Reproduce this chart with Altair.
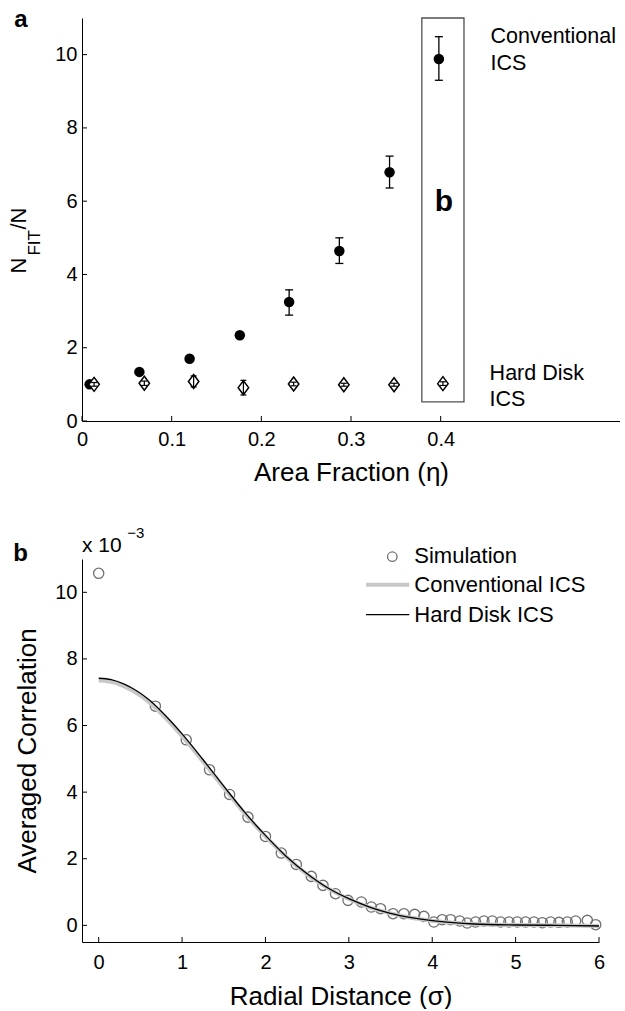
import altair as alt
import pandas as pd

FONT = "Liberation Sans"

# ---------------- Panel a data ----------------
conv_x = [0.0085, 0.064, 0.120, 0.176, 0.231, 0.287, 0.343, 0.398]
conv_y = [1.00, 1.34, 1.70, 2.34, 3.25, 4.64, 6.79, 9.88]
conv_lo = [0.97, 1.30, 1.64, 2.27, 2.89, 4.30, 6.36, 9.30]
conv_hi = [1.03, 1.38, 1.76, 2.41, 3.58, 5.00, 7.23, 10.49]

hd_x = [0.0135, 0.0695, 0.1245, 0.180, 0.236, 0.292, 0.348, 0.4025]
hd_y = [1.00, 1.03, 1.08, 0.91, 1.01, 0.99, 0.99, 1.02]
hd_lo = [0.95, 0.97, 0.93, 0.71, 0.96, 0.95, 0.95, 0.97]
hd_hi = [1.05, 1.09, 1.23, 1.11, 1.06, 1.03, 1.03, 1.07]

a_xticks = [0, 0.1, 0.2, 0.3, 0.4]
a_yticks = [0, 2, 4, 6, 8, 10]

# ---------------- Panel b data ----------------
sim_r = [0.00, 0.68, 1.05, 1.33, 1.57, 1.79, 2.00, 2.19, 2.37, 2.55, 2.69, 2.84,
         2.99, 3.15, 3.27, 3.38, 3.53, 3.66, 3.79, 3.90, 4.02, 4.12, 4.22, 4.33,
         4.42, 4.52, 4.62, 4.72, 4.82, 4.92, 5.02, 5.12, 5.22, 5.32, 5.42, 5.52,
         5.62, 5.72, 5.86, 5.96]
sim_v = [10.57, 6.58, 5.57, 4.67, 3.93, 3.25, 2.67, 2.17, 1.83, 1.47, 1.20, 0.95,
         0.75, 0.70, 0.55, 0.50, 0.35, 0.35, 0.33, 0.27, 0.10, 0.17, 0.17, 0.13,
         0.07, 0.10, 0.13, 0.13, 0.10, 0.10, 0.10, 0.10, 0.10, 0.08, 0.10, 0.09,
         0.10, 0.13, 0.15, 0.02]

fit_r = [0.0, 0.15, 0.3, 0.45, 0.6, 0.75, 1.0, 1.25, 1.5, 1.75, 2.0, 2.25, 2.5,
         2.75, 3.0, 3.25, 3.5, 3.75, 4.0, 4.25, 4.5, 5.0, 5.5, 6.0]
hd_fit = [7.42, 7.38, 7.25, 7.05, 6.78, 6.43, 5.75, 4.98, 4.18, 3.40, 2.70, 2.07,
          1.55, 1.12, 0.80, 0.55, 0.36, 0.23, 0.14, 0.08, 0.04, 0.01, 0.00, -0.02]
conv_fit = [7.35, 7.31, 7.18, 6.98, 6.71, 6.36, 5.68, 4.92, 4.13, 3.36, 2.67, 2.05,
            1.53, 1.11, 0.79, 0.54, 0.36, 0.23, 0.14, 0.08, 0.04, 0.01, 0.00, -0.02]

b_xticks = [0, 1, 2, 3, 4, 5, 6]
b_yticks = [0, 2, 4, 6, 8, 10]

one = pd.DataFrame({"k": [0]})

# ================= Panel a =================
xa = alt.Scale(domain=[0, 0.6], nice=False, zero=False)
ya = alt.Scale(domain=[0, 11], nice=False, zero=False)

dfc = pd.DataFrame({"x": conv_x, "y": conv_y, "lo": conv_lo, "hi": conv_hi})
dfh = pd.DataFrame({"x": hd_x, "y": hd_y, "lo": hd_lo, "hi": hd_hi})

a_base_x = alt.X("x:Q", scale=xa,
                 axis=alt.Axis(values=a_xticks, format="~g", title="Area Fraction (η)",
                               titlePadding=10, labelPadding=8, labelFlush=False))
a_base_y = alt.Y("y:Q", scale=ya,
                 axis=alt.Axis(values=a_yticks, format="d", title=None, labelPadding=5,
                               labelFlush=False))

a_conv_pts = alt.Chart(dfc).mark_point(shape="circle", filled=True, color="black",
                                       size=110, opacity=1).encode(x=a_base_x, y=a_base_y)
a_conv_bar = alt.Chart(dfc).mark_rule(color="black", strokeWidth=1.3).encode(
    x=alt.X("x:Q"), y=alt.Y("lo:Q"), y2="hi:Q")
a_conv_caplo = alt.Chart(dfc).mark_point(shape="stroke", size=64, stroke="black",
                                         strokeWidth=1.3, opacity=1).encode(
    x=alt.X("x:Q"), y=alt.Y("lo:Q"))
a_conv_caphi = alt.Chart(dfc).mark_point(shape="stroke", size=64, stroke="black",
                                         strokeWidth=1.3, opacity=1).encode(
    x=alt.X("x:Q"), y=alt.Y("hi:Q"))

a_hd_pts = alt.Chart(dfh).mark_point(shape="M0,-1L0.75,0L0,1L-0.75,0Z", filled=True,
                                     fill="white", stroke="black", strokeWidth=1.5,
                                     size=195, opacity=1).encode(
    x=alt.X("x:Q"), y=alt.Y("y:Q"))
a_hd_bar = alt.Chart(dfh).mark_rule(color="black", strokeWidth=1.2).encode(
    x=alt.X("x:Q"), y=alt.Y("lo:Q"), y2="hi:Q")
a_hd_caplo = alt.Chart(dfh).mark_point(shape="stroke", size=36, stroke="black",
                                       strokeWidth=1.2, opacity=1).encode(
    x=alt.X("x:Q"), y=alt.Y("lo:Q"))
a_hd_caphi = alt.Chart(dfh).mark_point(shape="stroke", size=36, stroke="black",
                                       strokeWidth=1.2, opacity=1).encode(
    x=alt.X("x:Q"), y=alt.Y("hi:Q"))

a_box = alt.Chart(one).mark_rect(fillOpacity=0, stroke="#505050", strokeWidth=1.3).encode(
    x=alt.datum(0.379), x2=alt.datum(0.426), y=alt.datum(0.52), y2=alt.datum(11))

a_yt = alt.Chart(pd.DataFrame({"v": a_yticks})).mark_point(
    shape="stroke", size=25, stroke="black", strokeWidth=1, opacity=1, xOffset=2.5).encode(
    x=alt.datum(0), y=alt.Y("v:Q"))
a_xt = alt.Chart(pd.DataFrame({"v": a_xticks})).mark_point(
    shape="stroke", size=25, stroke="black", strokeWidth=1, opacity=1, angle=90,
    yOffset=-2.5).encode(x=alt.X("v:Q"), y=alt.datum(0))


def txt(s, x, y, size=20, weight="normal", align="left", baseline="alphabetic", angle=0):
    kw = dict(text=s, fontSize=size, fontWeight=weight, align=align, baseline=baseline,
              font=FONT, color="black")
    if angle:
        kw["angle"] = angle
    return alt.Chart(one).mark_text(**kw).encode(x=alt.value(x), y=alt.value(y))


a_texts = [
    txt("a", -67.7, 8.6, size=24, weight="bold"),
    txt("Conventional", 408.5, 24.6, size=21.5),
    txt("ICS", 408.5, 51.6, size=21.5),
    txt("Hard Disk", 407.6, 361.6, size=21.5),
    txt("ICS", 407.6, 388.3, size=21.5),
    txt("b", 362, 184, size=30, weight="bold", align="center", baseline="middle"),
    txt("N", -55.7, 255.6, size=22, angle=270),
    txt("FIT", -41.7, 237.6, size=17, angle=270),
    txt("/N", -55.7, 211.6, size=22, angle=270),
]

panel_a = alt.layer(a_conv_pts, a_conv_bar, a_conv_caplo, a_conv_caphi,
                    a_hd_pts, a_hd_bar, a_hd_caplo, a_hd_caphi,
                    a_box, a_yt, a_xt, *a_texts).properties(width=538, height=403)

# ================= Panel b =================
xb = alt.Scale(domain=[-0.2, 6], nice=False, zero=False)
yb = alt.Scale(domain=[-0.5, 11], nice=False, zero=False)

dfs = pd.DataFrame({"r": sim_r, "v": sim_v})
dff = pd.DataFrame({"r": fit_r, "hd": hd_fit, "conv": conv_fit})

b_x = alt.X("r:Q", scale=xb,
            axis=alt.Axis(values=b_xticks, format="d", title="Radial Distance (σ)",
                          titlePadding=11, labelPadding=10, labelFlush=False))
b_y = alt.Y("v:Q", scale=yb,
            axis=alt.Axis(values=b_yticks, format="d", title="Averaged Correlation",
                          titlePadding=14, labelPadding=5, labelFlush=False))

b_sim = alt.Chart(dfs).mark_point(shape="circle", filled=False, stroke="#707070",
                                  strokeWidth=1.3, size=105, opacity=1).encode(x=b_x, y=b_y)
b_conv = alt.Chart(dff).mark_line(color="#c8c8c8", strokeWidth=4,
                                  interpolate="monotone").encode(
    x=alt.X("r:Q"), y=alt.Y("conv:Q"))
b_hd = alt.Chart(dff).mark_line(color="black", strokeWidth=1.3,
                                interpolate="monotone").encode(
    x=alt.X("r:Q"), y=alt.Y("hd:Q"))

b_yt = alt.Chart(pd.DataFrame({"v": b_yticks})).mark_point(
    shape="stroke", size=25, stroke="black", strokeWidth=1, opacity=1, xOffset=2.5).encode(
    x=alt.datum(-0.2), y=alt.Y("v:Q"))
b_xt = alt.Chart(pd.DataFrame({"v": b_xticks})).mark_point(
    shape="stroke", size=25, stroke="black", strokeWidth=1, opacity=1, angle=90,
    yOffset=-2.5).encode(x=alt.X("v:Q"), y=alt.datum(-0.5))

leg_pt = alt.Chart(one).mark_point(shape="circle", filled=False, stroke="#707070",
                                   strokeWidth=1.3, size=90, opacity=1).encode(
    x=alt.value(310.3), y=alt.value(-2.3))
leg_conv = alt.Chart(one).mark_rule(color="#c8c8c8", strokeWidth=4).encode(
    x=alt.value(284), x2=alt.value(327.3), y=alt.value(25.7))
leg_hd = alt.Chart(one).mark_rule(color="black", strokeWidth=1.3).encode(
    x=alt.value(284), x2=alt.value(327.3), y=alt.value(55.7))

b_texts = [
    txt("b", -68.7, 1.7, size=24, weight="bold"),
    txt("x 10", 0, -6.6, size=21),
    txt("−3", 45.3, -21.3, size=15),
    txt("Simulation", 332.3, 4, size=22),
    txt("Conventional ICS", 332.3, 33.4, size=22),
    txt("Hard Disk ICS", 332.3, 63.4, size=22),
]

panel_b = alt.layer(b_sim, b_conv, b_hd, b_yt, b_xt, leg_pt, leg_conv, leg_hd,
                    *b_texts).properties(width=517, height=383)

chart = alt.vconcat(panel_a, panel_b, spacing=138, bounds="flush").properties(
    padding={"left": 8, "top": 7, "right": 0, "bottom": 0}
).configure_view(stroke=None).configure_axis(
    domainColor="black", domainWidth=1, ticks=False, grid=False,
    labelFont=FONT, labelFontSize=20, labelColor="black",
    titleFont=FONT, titleFontSize=26, titleFontWeight="normal", titleColor="black"
)

chart.save("out.html", embed_options={"renderer": "svg", "actions": False})
